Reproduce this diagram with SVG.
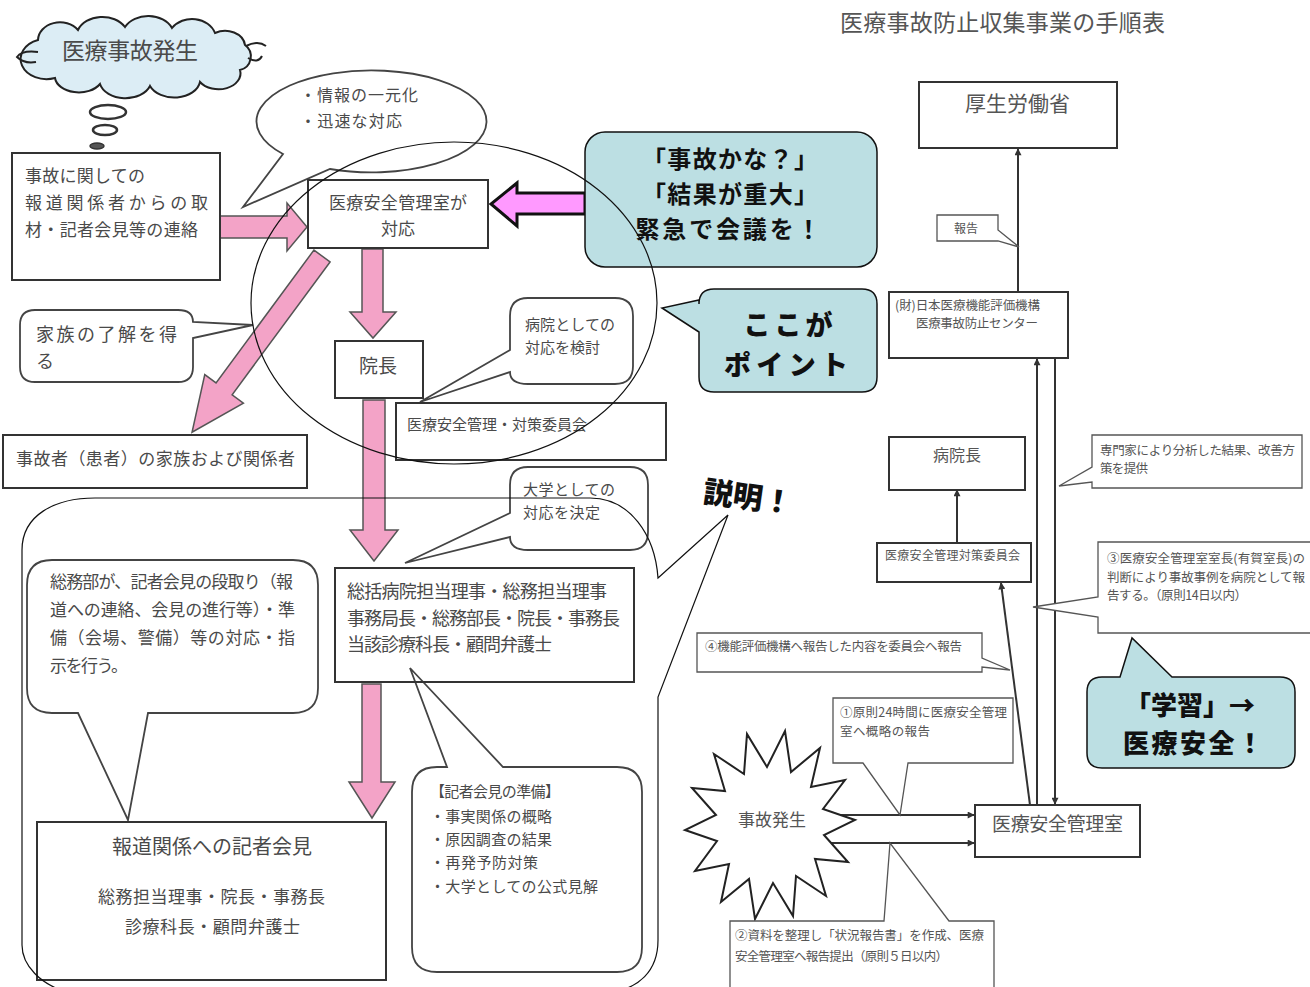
<svg xmlns="http://www.w3.org/2000/svg" width="1310" height="987" viewBox="0 0 1310 987">
<defs>
<style>
text{font-family:"Noto Sans CJK JP","Noto Sans CJK SC",sans-serif;fill:#4a4a4a}
.box{fill:#fff;stroke:#333;stroke-width:2}
.nob{fill:none;stroke:#333;stroke-width:2}
.cl{fill:#fff;stroke:#444;stroke-width:1.8}
.rc{fill:#fff;stroke:#555;stroke-width:1.3}
.teal{fill:#bcdfe3;stroke:#111;stroke-width:1.5}
.pink{fill:#f3a3c7;stroke:#555;stroke-width:1.5}
.mag{fill:#ff99ff;stroke:#111;stroke-width:3}
.thin{fill:none;stroke:#111;stroke-width:1.2}
.ln{fill:none;stroke:#333;stroke-width:2}
.bd{font-weight:700;fill:#111}
.hv{font-weight:900;fill:#111}
.c{text-anchor:middle}
.r{fill:#555}
</style>
<marker id="ah" viewBox="0 0 10 10" refX="9" refY="5" markerWidth="4" markerHeight="3.5" orient="auto" markerUnits="strokeWidth">
<path d="M0,0 L10,5 L0,10 Z" fill="#333"/>
</marker>
</defs>
<rect width="1310" height="987" fill="#fff"/>

<g id="cloud">
<path d="M38,40 A22 18 0 0 1 78,30 A26 20 0 0 1 125,27 A26 20 0 0 1 172,28 A24 20 0 0 1 215,33 A20 16 0 0 1 245,45 A14 14 0 0 1 240,70 A22 16 0 0 1 200,82 A26 18 0 0 1 150,86 A26 18 0 0 1 100,84 A24 16 0 0 1 55,78 A18 14 0 0 1 38,40 Z" fill="#dcedf5" stroke="#222" stroke-width="2"/>
<path d="M38,52 Q22,50 17,57 Q24,64 36,62" fill="none" stroke="#222" stroke-width="2"/>
<path d="M246,46 Q258,40 266,46 M248,58 Q258,64 262,56" fill="none" stroke="#222" stroke-width="2"/>
<text x="62" y="59" font-size="23" textLength="136" fill="#333">医療事故発生</text>
<ellipse cx="108" cy="112" rx="18" ry="7" fill="#fff" stroke="#333" stroke-width="2.5"/>
<ellipse cx="105" cy="130" rx="12" ry="5" fill="#fff" stroke="#333" stroke-width="2.5"/>
<ellipse cx="97" cy="146" rx="7" ry="3" fill="#555" stroke="#333" stroke-width="1.5"/>
</g>

<g id="connectors">
<polygon class="pink" points="220,216 287,216 287,203 307,227 287,251 287,238 220,238"/>
<polygon class="pink" points="362,249 383,249 383,312 396,312 373,338 350,312 362,312"/>
<polygon class="pink" points="363,400 385,400 385,530 398,530 374,561 350,530 363,530"/>
<polygon class="pink" points="362,684 381,684 381,782 395,782 372,818 349,782 362,782"/>
<polygon class="pink" transform="translate(322,256) rotate(126.4)" points="0,-10 165,-10 165,-24 219,0 165,24 165,10 0,10"/>
<polygon class="mag" points="585,193 517,193 517,183 491,204 517,226 517,214 585,214"/>
<path class="ln" d="M1018,292 V149" marker-end="url(#ah)"/>
<path class="ln" d="M957,542 V490" marker-end="url(#ah)"/>
<path class="ln" d="M1030,805 L1001,583" marker-end="url(#ah)"/>
<path class="ln" d="M1037,805 V359" marker-end="url(#ah)"/>
<path class="ln" d="M1055,359 V804" marker-end="url(#ah)"/>
<path class="ln" d="M830,815 H974" marker-end="url(#ah)"/>
<path class="ln" d="M826,843 H974" marker-end="url(#ah)"/>
</g>

<g id="n-press-contact">
<rect class="box" x="12" y="153" width="208" height="127"/>
<text x="25" y="182" font-size="17" textLength="120">事故に関しての</text>
<text x="25" y="209" font-size="17" textLength="183">報道関係者からの取</text>
<text x="25" y="236" font-size="17" textLength="173">材・記者会見等の連絡</text>
</g>

<g id="n-info-bubble">
<path class="cl" d="M330,169 A115 51 0 1 0 283,154 L243,207 Z"/>
<text x="300" y="101" font-size="16" textLength="118">・情報の一元化</text>
<text x="300" y="127" font-size="16" textLength="102">・迅速な対応</text>
</g>

<g id="n-safety-office">
<rect class="box" x="308" y="180" width="180" height="68"/>
<text x="398" y="209" font-size="17" class="c" textLength="138">医療安全管理室が</text>
<text x="398" y="235" font-size="17" class="c">対応</text>
</g>

<g id="n-urgent">
<rect class="teal" x="585" y="132" width="292" height="135" rx="20"/>
<text x="730" y="168" font-size="24" class="bd c" textLength="176">「事故かな？」</text>
<text x="730" y="203" font-size="24" class="bd c" textLength="176">「結果が重大」</text>
<text x="728" y="238" font-size="24" class="bd c" textLength="185">緊急で会議を！</text>
</g>

<g id="n-director">
<rect class="box" x="335" y="341" width="88" height="57"/>
<text x="378" y="373" font-size="19" class="c">院長</text>
</g>

<g id="n-hospital-bubble">
<path class="cl" d="M528,298 H615 Q633,298 633,316 V366 Q633,384 615,384 H528 Q510,384 510,372 L420,402 L510,350 V316 Q510,298 528,298 Z"/>
<text x="525" y="330" font-size="15" textLength="90">病院としての</text>
<text x="525" y="353" font-size="15" textLength="75">対応を検討</text>
</g>

<g id="n-committee">
<rect class="box" x="396" y="403" width="270" height="57"/>
<text x="407" y="430" font-size="15" textLength="180">医療安全管理・対策委員会</text>
</g>

<g id="n-point">
<path class="teal" d="M714,289 H862 Q877,289 877,304 V377 Q877,392 862,392 H714 Q699,392 699,377 V332 L662,308 L699,300 V304 Q699,289 714,289 Z"/>
<text x="788" y="335" font-size="27" class="hv c" textLength="89">ここが</text>
<text x="786" y="375" font-size="27" class="hv c" textLength="124">ポイント</text>
</g>

<g id="n-family-bubble">
<path class="cl" d="M35,310 H178 Q193,310 193,322 L253,325 L193,338 V367 Q193,382 178,382 H35 Q20,382 20,367 V325 Q20,310 35,310 Z"/>
<text x="36" y="341" font-size="18" textLength="141">家族の了解を得</text>
<text x="36" y="368" font-size="18">る</text>
</g>

<g id="n-family">
<rect class="box" x="3" y="435" width="304" height="53"/>
<text x="16" y="465" font-size="17" textLength="279">事故者（患者）の家族および関係者</text>
</g>

<g id="n-univ-bubble">
<path class="cl" d="M528,467 H630 Q648,467 648,485 V532 Q648,550 630,550 H528 Q510,550 510,537 L405,563 L510,513 V485 Q510,467 528,467 Z"/>
<text x="523" y="495" font-size="15" textLength="92">大学としての</text>
<text x="523" y="518" font-size="15" textLength="77">対応を決定</text>
</g>

<g id="n-press-prep-bubble">
<path class="cl" d="M437,767 H447 L410,668 L503,767 H617 Q642,767 642,792 V947 Q642,972 617,972 H437 Q412,972 412,947 V792 Q412,767 437,767 Z"/>
<text x="430" y="797" font-size="15" textLength="130">【記者会見の準備】</text>
<text x="430" y="822" font-size="15" textLength="122">・事実関係の概略</text>
<text x="430" y="845" font-size="15" textLength="122">・原因調査の結果</text>
<text x="430" y="868" font-size="15" textLength="108">・再発予防対策</text>
<text x="430" y="892" font-size="15" textLength="168">・大学としての公式見解</text>
</g>

<g id="n-executives">
<rect class="nob" x="335" y="568" width="299" height="114"/>
<text x="347" y="598" font-size="18" textLength="260">総括病院担当理事・総務担当理事</text>
<text x="347" y="625" font-size="18" textLength="273">事務局長・総務部長・院長・事務長</text>
<text x="347" y="651" font-size="18" textLength="205">当該診療科長・顧問弁護士</text>
</g>

<g id="n-general-affairs-bubble">
<path class="cl" d="M52,560 H293 Q318,560 318,585 V688 Q318,713 293,713 H148 L128,820 L78,713 H52 Q27,713 27,688 V585 Q27,560 52,560 Z"/>
<text x="50" y="588" font-size="17" textLength="243">総務部が、記者会見の段取り（報</text>
<text x="50" y="616" font-size="17" textLength="245">道への連絡、会見の進行等）・準</text>
<text x="50" y="644" font-size="17" textLength="245">備（会場、警備）等の対応・指</text>
<text x="50" y="672" font-size="17" textLength="78">示を行う。</text>
</g>

<g id="n-press-conf">
<rect class="box" x="37" y="822" width="349" height="158"/>
<text x="112" y="854" font-size="20" textLength="200">報道関係への記者会見</text>
<text x="98" y="903" font-size="17" textLength="227">総務担当理事・院長・事務長</text>
<text x="125" y="933" font-size="17" textLength="175">診療科長・顧問弁護士</text>
</g>

<g id="n-explain">
<text x="748" y="508" font-size="30" class="hv c" transform="rotate(8 748 497)" textLength="90">説明！</text>
</g>

<g id="n-title">
<text x="840" y="31" font-size="23" class="r" textLength="325">医療事故防止収集事業の手順表</text>
</g>

<g id="n-mhlw">
<rect class="box" x="919" y="82" width="198" height="66"/>
<text x="965" y="111" font-size="21" class="r" textLength="105">厚生労働省</text>
</g>

<g id="n-report-label">
<path class="rc" d="M937,215 H998 V230 L1019,247 L998,241 H937 Z"/>
<text x="966" y="233" font-size="12" class="r c">報告</text>
</g>

<g id="n-jcqhc">
<rect class="box" x="889" y="292" width="179" height="66"/>
<text x="895" y="310" font-size="12.5" class="r" textLength="145">(財)日本医療機能評価機構</text>
<text x="916" y="328" font-size="12.5" class="r" textLength="122">医療事故防止センター</text>
</g>

<g id="n-hospital-director">
<rect class="box" x="889" y="437" width="136" height="53"/>
<text x="957" y="461" font-size="16" class="r c">病院長</text>
</g>

<g id="n-safety-committee">
<rect class="box" x="877" y="543" width="154" height="39"/>
<text x="885" y="560" font-size="12" class="r" textLength="135">医療安全管理対策委員会</text>
</g>

<g id="n-expert-bubble">
<path class="rc" d="M1092,435 H1302 V488 H1092 V482 L1059,486 L1092,467 Z"/>
<text x="1100" y="455" font-size="12.5" class="r" textLength="195">専門家により分析した結果、改善方</text>
<text x="1100" y="473" font-size="12.5" class="r" textLength="48">策を提供</text>
</g>

<g id="n-step3-bubble">
<path class="rc" d="M1098,542 H1320 V633 H1098 V617 L1033,607 L1098,597 Z"/>
<text x="1107" y="563" font-size="12.5" class="r" textLength="198">③医療安全管理室室長(有賀室長)の</text>
<text x="1107" y="582" font-size="12.5" class="r" textLength="198">判断により事故事例を病院として報</text>
<text x="1107" y="600" font-size="12.5" class="r" textLength="140">告する。（原則14日以内）</text>
</g>

<g id="n-step4-bubble">
<path class="rc" d="M697,633 H982 V658 L1010,670 L982,667 V672 H697 Z"/>
<text x="705" y="651" font-size="12.5" class="r" textLength="257">④機能評価機構へ報告した内容を委員会へ報告</text>
</g>

<g id="n-learning">
<path class="teal" d="M1102,677 H1120 L1132,638 L1172,677 H1280 Q1295,677 1295,692 V753 Q1295,768 1280,768 H1102 Q1087,768 1087,753 V692 Q1087,677 1102,677 Z"/>
<text x="1190" y="715" font-size="26" class="hv c" textLength="130">「学習」→</text>
<text x="1193" y="753" font-size="26" class="hv c" textLength="140">医療安全！</text>
</g>

<g id="n-step1-bubble">
<path class="rc" d="M833,698 H1013 V763 H908 L900,815 L863,763 H833 Z"/>
<text x="840" y="717" font-size="12.5" class="r" textLength="167">①原則24時間に医療安全管理</text>
<text x="840" y="736" font-size="12.5" class="r" textLength="90">室へ概略の報告</text>
</g>

<g id="n-accident">
<polygon points="785,731 791,772 820,748 811,787 845,780 823,809 855,820 824,835 848,862 815,859 826,896 796,876 793,916 773,883 755,919 749,879 721,902 729,864 695,871 717,841 685,830 716,815 692,788 725,791 714,754 744,774 747,734 767,767" fill="#fff" stroke="#222" stroke-width="2"/>
<text x="772" y="826" font-size="17" class="r c">事故発生</text>
</g>

<g id="n-safety-room">
<rect class="box" x="975" y="805" width="165" height="52"/>
<text x="992" y="831" font-size="19" class="r" textLength="131">医療安全管理室</text>
</g>

<g id="n-step2-bubble">
<path class="rc" d="M730,921 H884 L890,843 L949,921 H994 V995 H730 Z"/>
<text x="735" y="940" font-size="12.5" class="r" textLength="249">②資料を整理し「状況報告書」を作成、医療</text>
<text x="735" y="961" font-size="12.5" class="r" textLength="213">安全管理室へ報告提出（原則５日以内）</text>
</g>

<g id="overlays">
<ellipse class="thin" cx="454" cy="303" rx="203" ry="161"/>
<path class="thin" d="M658,578 L728,515 L658,697 L658,940 C658,970 640,990 605,993 L70,993 C40,985 22,965 22,945 L22,550 C22,515 55,498 95,498 L590,498 C630,498 655,535 658,578 Z"/>
</g>
</svg>
